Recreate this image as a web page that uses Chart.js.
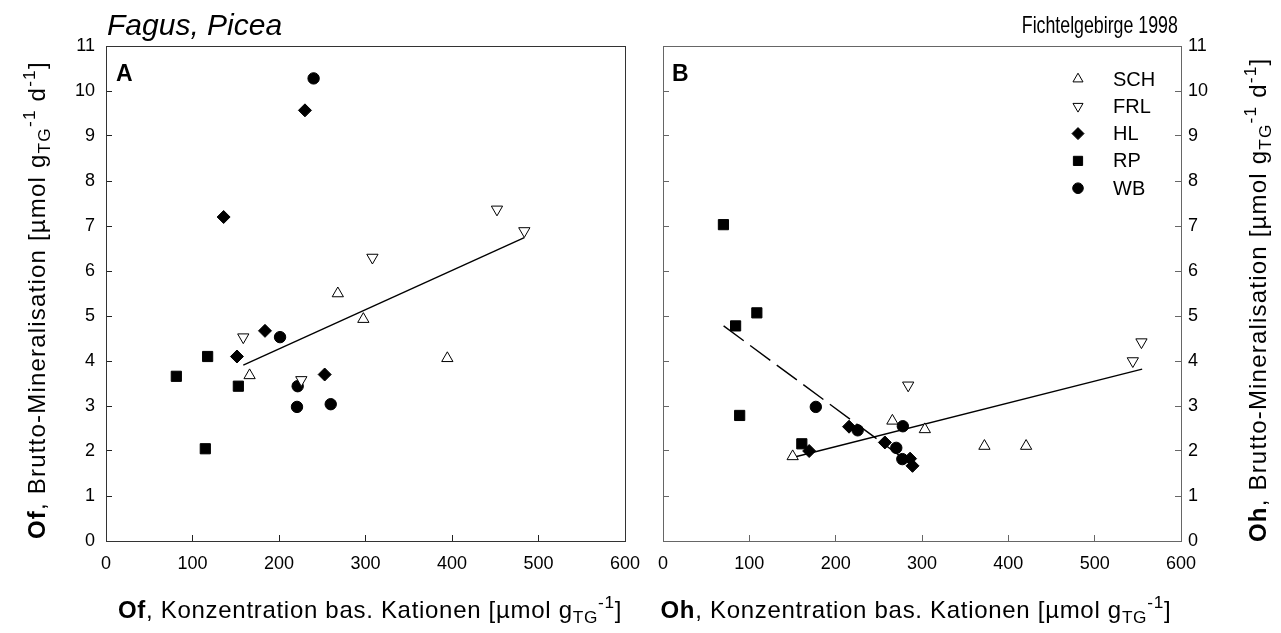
<!DOCTYPE html>
<html>
<head>
<meta charset="utf-8">
<script src="https://cdn.jsdelivr.net/npm/chart.js@4.4.1/dist/chart.umd.min.js"></script>
<style>
  body { margin: 0; background: #fff; width: 1281px; height: 633px; position: relative; overflow: hidden;
         font-family: "Liberation Sans", Arial, sans-serif; color: #000; }
  canvas { position: absolute; top: 0; }
  #left { left: 0; }
  #right { left: 640px; }
  .t { position: absolute; white-space: nowrap; line-height: 1; }
  .sb { font-size: 0.72em; vertical-align: -0.3em; }
  .sp { font-size: 0.72em; vertical-align: 0.55em; }
  .rot { transform-origin: 0 0; }
</style>
</head>
<body>
<canvas id="left" width="640" height="633"></canvas>
<canvas id="right" width="641" height="633"></canvas>

<div class="t" style="left:107px;top:10px;font-size:30px;font-style:italic">Fagus, Picea</div>
<div class="t" style="right:103px;top:13px;font-size:24px;transform:scaleX(0.74);transform-origin:right center">Fichtelgebirge 1998</div>
<div class="t" style="left:116px;top:62px;font-size:23px;font-weight:bold">A</div>
<div class="t" style="left:672px;top:62px;font-size:23px;font-weight:bold">B</div>

<div class="t" id="xl" style="top:594px;font-size:24px;letter-spacing:0.7px"><b>Of</b>, Konzentration bas. Kationen [µmol g<span class="sb">TG</span><span class="sp">-1</span>]</div>
<div class="t" id="xr" style="top:594px;font-size:24px;letter-spacing:0.7px"><b>Oh</b>, Konzentration bas. Kationen [µmol g<span class="sb">TG</span><span class="sp">-1</span>]</div>
<div class="t rot" id="yl" style="font-size:24px;letter-spacing:1.2px"><b>Of</b>, Brutto-Mineralisation [µmol g<span class="sb">TG</span><span class="sp">-1</span> d<span class="sp">-1</span>]</div>
<div class="t rot" id="yr" style="font-size:24px;letter-spacing:1.2px"><b>Oh</b>, Brutto-Mineralisation [µmol g<span class="sb">TG</span><span class="sp">-1</span> d<span class="sp">-1</span>]</div>

<script>
// Sites (legend order)
const sites = ['SCH', 'FRL', 'HL', 'RP', 'WB'];

// Panel A: Of layer, [cations, gross mineralisation]
const schOf = [[166, 3.68], [268, 5.5], [297.5, 4.93], [394.6, 4.06]];
const frlOf = [[158.7, 4.53], [225.8, 3.58], [308, 6.3], [452, 7.37], [483.6, 6.89]];
const hlOf  = [[136, 7.2], [230, 9.57], [151.4, 4.1], [183.8, 4.67], [252.8, 3.7]];
const rpOf  = [[81.3, 3.66], [117.5, 4.1], [153, 3.44], [114.8, 2.05]];
const wbOf  = [[240, 10.28], [201.2, 4.53], [221.6, 3.44], [220.8, 2.98], [259.8, 3.04]];
const fitOf = [[158.7, 3.91], [483.6, 6.74]];

// Panel B: Oh layer
const schOh = [[150.2, 1.88], [265.7, 2.67], [303.3, 2.48], [372.3, 2.11], [420.6, 2.11]];
const frlOh = [[284, 3.46], [544.2, 4.0], [554.2, 4.42]];
const hlOh  = [[169.3, 2.0], [215.5, 2.54], [257, 2.19], [286.2, 1.83], [289, 1.67]];
const rpOh  = [[70, 7.03], [84.1, 4.78], [108.7, 5.07], [88.8, 2.79], [160.8, 2.16]];
const wbOh  = [[177, 2.98], [225.5, 2.46], [277.8, 2.55], [270.2, 2.07], [277.2, 1.82]];
const fitOh   = [[151.3, 1.86], [555, 3.82]];
const fitRpOh = [[70.2, 4.78], [283, 1.77]];

const xTicks = [0, 100, 200, 300, 400, 500, 600];
const yTicks = [0, 1, 2, 3, 4, 5, 6, 7, 8, 9, 10, 11];

const FONT = '"Liberation Sans", Arial, sans-serif';

const markers = {
  SCH: { pointStyle: 'triangle', rotation: 0,   backgroundColor: '#fff', radius: 6.5, legendRadius: 5.8 },
  FRL: { pointStyle: 'triangle', rotation: 180, backgroundColor: '#fff', radius: 6.5, legendRadius: 5.8 },
  HL:  { pointStyle: 'rectRot',  rotation: 0,   backgroundColor: '#000', radius: 6.5, legendRadius: 6 },
  RP:  { pointStyle: 'rect',     rotation: 0,   backgroundColor: '#000', radius: 7.2, legendRadius: 6.5 },
  WB:  { pointStyle: 'circle',   rotation: 0,   backgroundColor: '#000', radius: 5.7, legendRadius: 5.3 }
};

const toXY = arr => arr.map(p => ({ x: p[0], y: p[1] }));

function pointSet(name, arr) {
  const m = markers[name];
  return {
    type: 'scatter', label: name, data: toXY(arr), order: 1,
    pointStyle: m.pointStyle, rotation: m.rotation,
    backgroundColor: m.backgroundColor, borderColor: '#000', borderWidth: 1,
    pointRadius: m.radius, pointHoverRadius: m.radius
  };
}

function lineSet(arr, dash) {
  return {
    type: 'line', label: 'fit', data: toXY(arr), order: 2,
    borderColor: '#000', borderWidth: 1.4, borderDash: dash || [],
    pointRadius: 0, fill: false, tension: 0
  };
}

// frame around the plot area
const frame = {
  id: 'frame',
  afterDraw(chart, args, opts) {
    const a = chart.chartArea, ctx = chart.ctx;
    ctx.save();
    ctx.strokeStyle = opts.color;
    ctx.lineWidth = 1;
    ctx.strokeRect(Math.round(a.left) + 0.5, Math.round(a.top) + 0.5,
                   Math.round(a.right - a.left), Math.round(a.bottom - a.top));
    ctx.restore();
  }
};

// legend drawn inside panel B
const siteLegend = {
  id: 'siteLegend',
  afterDraw(chart, args, opts) {
    if (!opts.show) return;
    const ctx = chart.ctx;
    ctx.save();
    ctx.font = '20px ' + FONT;
    ctx.textBaseline = 'middle';
    sites.forEach((s, i) => {
      const m = markers[s];
      const y = opts.y + i * opts.step;
      ctx.strokeStyle = '#000';
      ctx.fillStyle = m.backgroundColor;
      ctx.lineWidth = 1;
      Chart.helpers.drawPoint(ctx, { pointStyle: m.pointStyle, rotation: m.rotation, radius: m.legendRadius, borderWidth: 1 }, opts.x, y);
      ctx.fillStyle = '#000';
      ctx.fillText(s, opts.x + 35, y + 1);
    });
    ctx.restore();
  }
};

function xScale(color, pad) {
  return {
    type: 'linear', position: 'bottom', min: 0, max: 600,
    afterBuildTicks: s => { s.ticks = xTicks.map(v => ({ value: v })); },
    afterFit: s => { s.height = 92; s.paddingLeft = 0; s.paddingRight = 0; },
    border: { display: true, color: color, width: 1 },
    grid: { drawOnChartArea: false, drawTicks: true, tickLength: -6, color: color },
    ticks: { color: '#000', font: { family: FONT, size: 18 }, padding: pad, maxRotation: 0 }
  };
}

function yScale(color, pos, width, labels, pad) {
  return {
    type: 'linear', position: pos, min: 0, max: 11,
    afterBuildTicks: s => { s.ticks = yTicks.map(v => ({ value: v })); },
    afterFit: s => { s.width = width; s.paddingTop = 0; s.paddingBottom = 0; },
    border: { display: true, color: color, width: 1 },
    grid: { drawOnChartArea: false, drawTicks: true, tickLength: -6, color: color },
    ticks: { display: labels, color: '#000', font: { family: FONT, size: 18 }, padding: pad }
  };
}

const common = {
  responsive: false,
  animation: false,
  events: [],
  plugins: { legend: { display: false }, tooltip: { enabled: false } }
};

new Chart(document.getElementById('left'), {
  type: 'scatter',
  data: {
    datasets: [
      pointSet('SCH', schOf), pointSet('FRL', frlOf), pointSet('HL', hlOf),
      pointSet('RP', rpOf), pointSet('WB', wbOf), lineSet(fitOf)
    ]
  },
  options: Object.assign({}, common, {
    layout: { padding: { top: 46, right: 15, bottom: 0, left: 0 } },
    scales: {
      x: xScale('#222', 18),
      y: yScale('#222', 'left', 106, true, 17)
    },
    plugins: Object.assign({}, common.plugins, { frame: { color: '#333' }, siteLegend: { show: false } })
  }),
  plugins: [frame, siteLegend]
});

new Chart(document.getElementById('right'), {
  type: 'scatter',
  data: {
    datasets: [
      pointSet('SCH', schOh), pointSet('FRL', frlOh), pointSet('HL', hlOh),
      pointSet('RP', rpOh), pointSet('WB', wbOh), lineSet(fitOh), lineSet(fitRpOh, [25, 8])
    ]
  },
  options: Object.assign({}, common, {
    layout: { padding: { top: 46, right: 0, bottom: 0, left: 0 } },
    scales: {
      x: xScale('#666', 18),
      yl: yScale('#666', 'left', 23, false, 0),
      y: yScale('#666', 'right', 100, true, 13)
    },
    plugins: Object.assign({}, common.plugins, {
      frame: { color: '#666' },
      siteLegend: { show: true, x: 438, y: 79, step: 27.3 }
    })
  }),
  plugins: [frame, siteLegend]
});

// place axis titles
function centerX(id, cx) {
  const el = document.getElementById(id);
  el.style.left = (cx - el.offsetWidth / 2) + 'px';
}
function centerRot(id, cx, cy) {
  const el = document.getElementById(id);
  const w = el.offsetWidth, h = el.offsetHeight;
  el.style.left = (cx - h / 2) + 'px';
  el.style.top = (cy + w / 2) + 'px';
  el.style.transform = 'rotate(-90deg)';
}
centerX('xl', 370);
centerX('xr', 916);
centerRot('yl', 37, 300);
centerRot('yr', 1258, 300);
</script>
</body>
</html>
